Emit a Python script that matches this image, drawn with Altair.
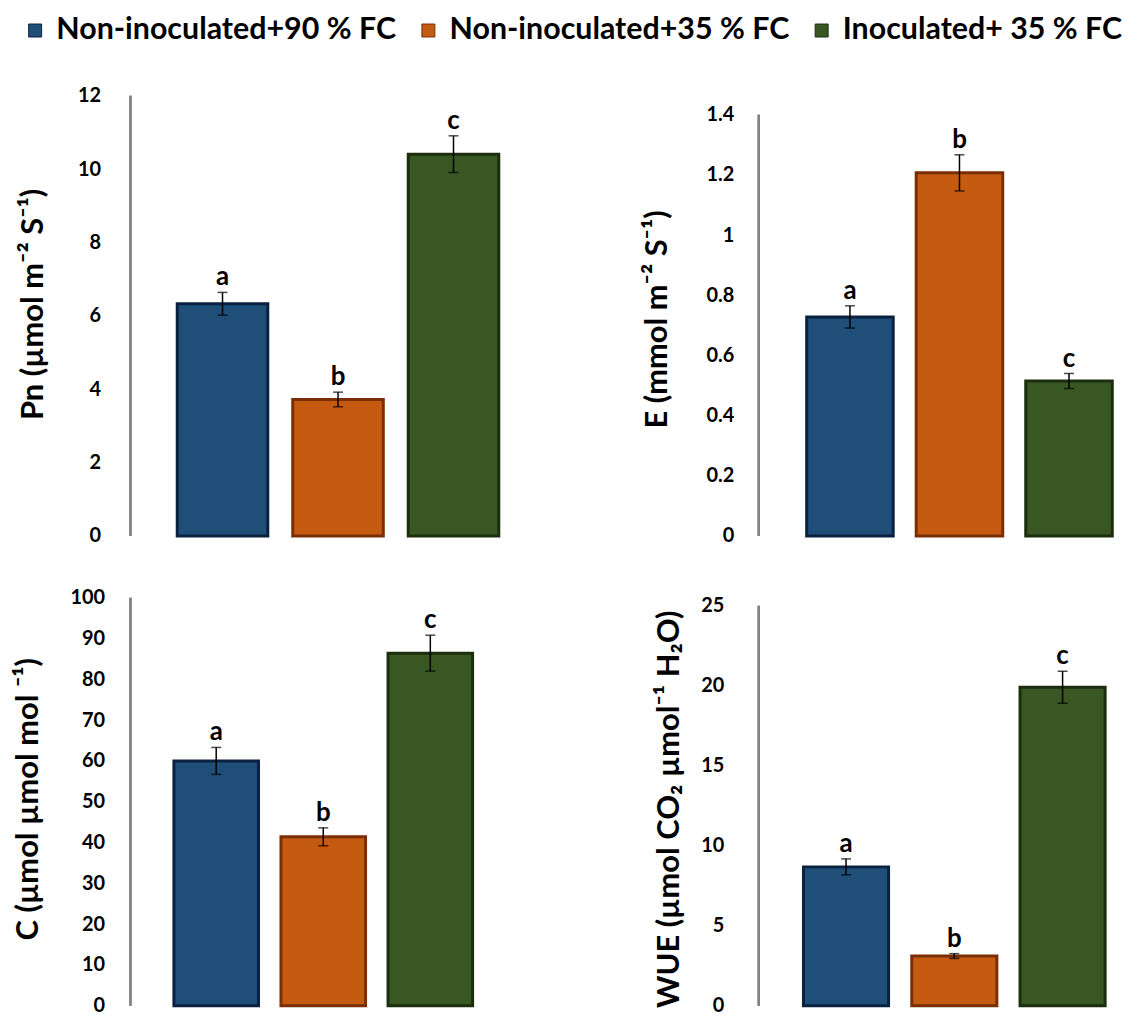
import altair as alt
import pandas as pd

treatments = ["Non-inoculated+90 % FC", "Non-inoculated+35 % FC", "Inoculated+ 35 % FC"]
fill_colors = ["#1F4E79", "#C55A11", "#385723"]
stroke_colors = ["#0B2140", "#7A2E06", "#1B2E0E"]

pn_vals = [6.33, 3.72, 10.41]
pn_err = [0.31, 0.20, 0.50]
pn_letters = ["a", "b", "c"]

e_vals = [0.728, 1.207, 0.515]
e_err = [0.037, 0.06, 0.025]
e_letters = ["a", "b", "c"]

c_vals = [60.0, 41.4, 86.4]
c_err = [3.3, 2.2, 4.4]
c_letters = ["a", "b", "c"]

wue_vals = [8.68, 3.11, 19.9]
wue_err = [0.5, 0.15, 1.0]
wue_letters = ["a", "b", "c"]

pn_ticks = [0, 2, 4, 6, 8, 10, 12]
e_ticks = [0, 0.2, 0.4, 0.6, 0.8, 1.0, 1.2, 1.4]
c_ticks = [0, 10, 20, 30, 40, 50, 60, 70, 80, 90, 100]
wue_ticks = [0, 5, 10, 15, 20, 25]

FONT = "Lato"


def panel(vals, errs, letters, title, ticks, dmax, width, height,
          pI, pO, align, titleX, titleY, labelPadding, show_legend=False):
    df = pd.DataFrame({
        "t": treatments,
        "v": vals,
        "lo": [v - e for v, e in zip(vals, errs)],
        "hi": [v + e for v, e in zip(vals, errs)],
        "lab": letters,
    })
    x = alt.X("t:N", sort=treatments, axis=None,
              scale=alt.Scale(paddingInner=pI, paddingOuter=pO, align=align))
    yscale = alt.Scale(domain=[0, dmax], nice=False, zero=True)
    yaxis = alt.Axis(values=ticks, format="~f", title=title, domain=False, ticks=False,
                     grid=False, labelPadding=labelPadding, labelFont=FONT, labelFontSize=20,
                     labelFontWeight="bold", labelColor="#000000", titleFont=FONT,
                     titleFontSize=31, titleFontWeight="bold", titleColor="#000000",
                     titleX=titleX, titleY=titleY, titleBaseline="middle", titleAngle=270)
    base = alt.Chart(df)
    if show_legend:
        leg = alt.Legend(title=None, orient="none", direction="horizontal",
                         legendX=-111, legendY=-81, symbolType="square", symbolSize=170,
                         symbolStrokeColor="#222222", symbolStrokeWidth=1,
                         labelFont=FONT, labelFontSize=30.5, labelFontWeight="bold",
                         labelColor="#000000", labelLimit=500, columnPadding=17,
                         labelOffset=6)
    else:
        leg = None
    bars = base.mark_bar(strokeWidth=3).encode(
        x=x,
        y=alt.Y("v:Q", scale=yscale, axis=yaxis),
        fill=alt.Fill("t:N", sort=treatments,
                      scale=alt.Scale(domain=treatments, range=fill_colors), legend=leg),
        stroke=alt.Stroke("t:N", scale=alt.Scale(domain=treatments, range=stroke_colors),
                          legend=None),
    )
    axis_line = base.mark_rule(color="#7F7F7F", strokeWidth=2).encode(
        x=alt.value(0),
        y=alt.Y(datum=0, scale=yscale, axis=yaxis),
        y2=alt.Y2(datum=ticks[-1]),
    )
    rule = base.mark_rule(color="#000000", strokeWidth=1.5).encode(
        x=x, y=alt.Y("lo:Q", scale=yscale, axis=yaxis), y2="hi:Q")
    cap_hi = base.mark_tick(color="#000000", thickness=1.5, size=10).encode(
        x=x, y=alt.Y("hi:Q", scale=yscale, axis=yaxis))
    cap_lo = base.mark_tick(color="#000000", thickness=1.5, size=10).encode(
        x=x, y=alt.Y("lo:Q", scale=yscale, axis=yaxis))
    text = base.mark_text(baseline="alphabetic", dy=-7, font=FONT, fontSize=26,
                          fontWeight="bold", color="#000000").encode(
        x=x, y=alt.Y("hi:Q", scale=yscale, axis=yaxis), text="lab:N")
    return alt.layer(bars, axis_line, rule, cap_hi, cap_lo, text).properties(
        width=width, height=height)


p1 = panel(pn_vals, pn_err, pn_letters, "Pn (µmol m⁻² S⁻¹)", pn_ticks, 12,
           400, 442, 0.216, 0.332, 0.61, -97, 209, 30, show_legend=True)
p2 = panel(e_vals, e_err, e_letters, "E (mmol m⁻² S⁻¹)", e_ticks, 1.463,
           380, 442, 0.21, 0.332, 0.66, -102, 224, 25)
p3 = panel(c_vals, c_err, c_letters, "C (µmol  µmol mol ⁻¹)", c_ticks, 100,
           374, 410, 0.21, 0.344, 0.59, -102, 202, 26)
p4 = panel(wue_vals, wue_err, wue_letters, "WUE (µmol CO₂ µmol⁻¹ H₂O)", wue_ticks, 25.5,
           375, 410, 0.214, 0.331, 0.625, -90, 212, 35)

chart = alt.ConcatChart(
    concat=[p1, p2, p3, p4], columns=2,
    spacing=alt.RowColnumber(column=113, row=42), align="each",
).resolve_scale(fill="shared", stroke="shared").properties(
    padding={"left": 5, "top": 5, "right": 0, "bottom": 0}, background="white"
).configure_view(stroke=None)

chart.save("out.html", embed_options={"renderer": "svg", "actions": False})
